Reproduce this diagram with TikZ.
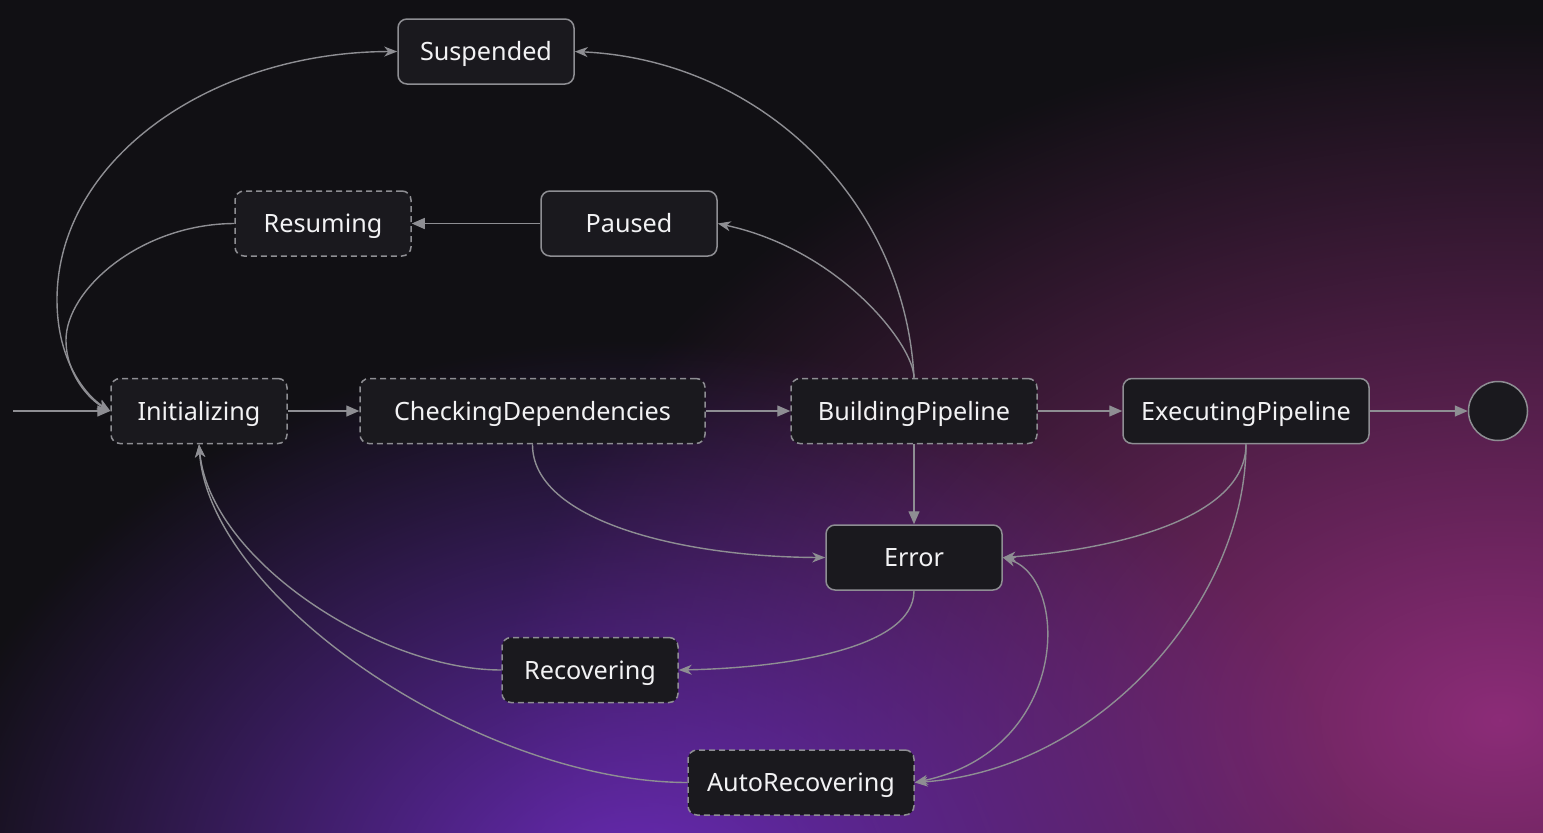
\documentclass[tikz,border=0pt]{standalone}
\usepackage{fontspec}
\setmainfont{Noto Sans}
\usetikzlibrary{arrows.meta,fadings,shapes.geometric}
\definecolor{bgdark}{HTML}{111014}
\definecolor{purp}{HTML}{6A2BB8}
\definecolor{mag}{HTML}{8C2C78}
\definecolor{nodefill}{HTML}{1A191E}
\definecolor{edgegray}{HTML}{8E8E93}
\definecolor{txt}{HTML}{F2F2F4}
\tikzfading[name=softfade, inner color=transparent!0, outer color=transparent!100]
\begin{document}
\begin{tikzpicture}[x=1pt,y=-1pt,
  state/.style={draw=edgegray, line width=1.5pt, fill=nodefill, rounded corners=9pt,
    text=txt, font=\fontsize{25.2}{29}\selectfont, inner sep=0pt, minimum height=65pt,
    text height=18pt, text depth=0pt},
  dstate/.style={state, dash pattern=on 6pt off 4pt},
  straight/.style={draw=edgegray, line width=1.4pt, -{Triangle[length=13pt,width=11pt]}},
  curved/.style={draw=edgegray, line width=1.4pt, -{Stealth[length=13pt,width=10pt,inset=4pt]}},
  curvedboth/.style={draw=edgegray, line width=1.4pt, {Stealth[length=13pt,width=10pt,inset=4pt]}-{Stealth[length=13pt,width=10pt,inset=4pt]}}
]
\useasboundingbox (0,0) rectangle (1543,833);
\fill[bgdark] (0,0) rectangle (1543,833);
\begin{scope}
\clip (0,0) rectangle (1543,833);
\fill[mag, path fading=softfade] (1500,720) ellipse [x radius=1000, y radius=700];
\fill[purp, path fading=softfade] (640,900) ellipse [x radius=720, y radius=560];
\end{scope}

% nodes
\node[state, minimum width=176pt] (susp) at (486,51.5) {Suspended};
\node[dstate, minimum width=176pt] (resum) at (323,223.5) {Resuming};
\node[state, minimum width=176pt] (paused) at (629,223.5) {Paused};
\node[dstate, minimum width=176pt] (init) at (199,411) {Initializing};
\node[dstate, minimum width=345pt] (check) at (532.5,411) {CheckingDependencies};
\node[dstate, minimum width=246pt] (build) at (914,411) {BuildingPipeline};
\node[state, minimum width=246pt] (exec) at (1246,411) {ExecutingPipeline};
\node[draw=edgegray, line width=1.5pt, fill=nodefill, circle, minimum size=59pt, inner sep=0pt] (final) at (1498,411) {};
\node[state, minimum width=176pt] (err) at (914,557.5) {Error};
\node[dstate, minimum width=176pt] (recov) at (590,670) {Recovering};
\node[dstate, minimum width=226pt] (auto) at (801,782.5) {AutoRecovering};
\coordinate (start) at (13,411);

% straight edges
\draw[straight] (start) -- (init.west);
\draw[straight] (init.east) -- (check.west);
\draw[straight] (check.east) -- (build.west);
\draw[straight] (build.east) -- (exec.west);
\draw[straight] (exec.east) -- (final.west);
\draw[straight] (build.south) -- (err.north);
\draw[straight] (paused.west) -- (resum.east);

% curved edges
\draw[curved] (build.north) .. controls (905,200) and (760,60) .. (susp.east);
\draw[curved] (build.north) .. controls (914,345) and (840,250) .. (paused.east);
\draw[curvedboth] (susp.west) .. controls (210,52) and (57,160) .. (57,300) .. controls (57,360) and (85,395) .. (init.west);
\draw[curved] (resum.west) .. controls (140,224) and (66,290) .. (66,340) .. controls (66,375) and (90,400) .. (init.west);
\draw[curved] (check.south) .. controls (532,520) and (680,557) .. (err.west);
\draw[curved] (exec.south) .. controls (1246,520) and (1110,550) .. (err.east);
\draw[curved] (exec.south) .. controls (1246,600) and (1100,770) .. (auto.east);
\draw[curvedboth] (err.east) .. controls (1070,580) and (1070,750) .. (auto.east);
\draw[curved] (err.south) .. controls (914,650) and (780,668) .. (recov.east);
\draw[curved] (recov.west) .. controls (380,670) and (210,560) .. (init.south);
\draw[curved] (auto.west) .. controls (480,782) and (210,600) .. (init.south);
\end{tikzpicture}
\end{document}
